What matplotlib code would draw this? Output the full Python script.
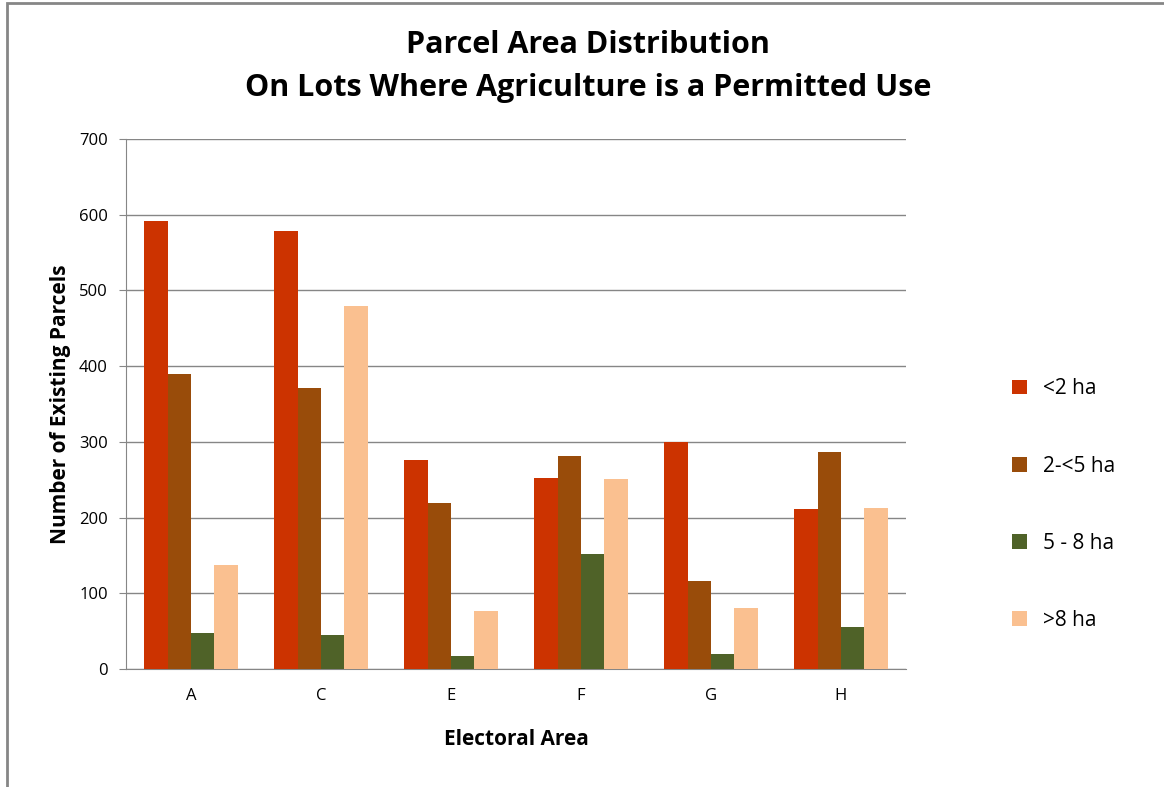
import matplotlib.pyplot as plt
import numpy as np
from matplotlib.patches import Rectangle
from matplotlib.font_manager import fontManager

areas = ["A", "C", "E", "F", "G", "H"]
series_names = ["<2 ha", "2-<5 ha", "5 - 8 ha", ">8 ha"]
under_2 = [592, 579, 276, 252, 300, 211]
two_to_5 = [390, 371, 219, 281, 116, 287]
five_to_8 = [47, 45, 17, 152, 20, 55]
over_8 = [137, 480, 77, 251, 81, 213]
colors = ["#CC3300", "#994C0A", "#4F6228", "#FAC090"]

names = {f.name for f in fontManager.ttflist}
font = "Liberation Sans Narrow" if "Liberation Sans Narrow" in names else "Open Sans"
plt.rcParams["font.family"] = [font, "DejaVu Sans"]

fig = plt.figure(figsize=(11.64, 7.87), dpi=100)
ax = fig.add_axes([126 / 1164, 1 - 669 / 787, 780 / 1164, 530 / 787])

x = np.arange(len(areas))
width = 0.18
for i, (vals, name) in enumerate(zip([under_2, two_to_5, five_to_8, over_8], series_names)):
    ax.bar(x + (i - 1.5) * width, vals, width, color=colors[i], label=name, zorder=3)

ax.set_xlim(-0.5, len(areas) - 0.5)
ax.set_ylim(0, 700)
ax.set_yticks(range(0, 701, 100))
ax.set_xticks(x)
ax.set_xticklabels(areas)
ax.grid(axis="y", color="#868686", linewidth=1, zorder=0)
for s in ["top", "right"]:
    ax.spines[s].set_visible(False)
ax.spines["left"].set_color("#868686")
ax.spines["bottom"].set_color("#868686")
ax.tick_params(axis="y", length=5, color="#868686", labelsize=12, pad=8)
ax.tick_params(axis="x", length=0, labelsize=12, pad=14)

ax.set_xlabel("Electoral Area", fontsize=15, fontweight="bold", labelpad=18)
ax.set_ylabel("Number of Existing Parcels", fontsize=15, fontweight="bold", labelpad=6)

fig.text(0.505, 1 - 45 / 787, "Parcel Area Distribution", ha="center", va="center",
         fontsize=22, fontweight="bold")
fig.text(0.505, 1 - 88 / 787, "On Lots Where Agriculture is a Permitted Use", ha="center",
         va="center", fontsize=22, fontweight="bold")

ax.legend(loc="center left", bbox_to_anchor=(1.112, 0.31), frameon=False, fontsize=15,
          handlelength=0.7, handleheight=0.7, labelspacing=2.7, handletextpad=0.8)

fig.patches.append(Rectangle((7 / 1164, -0.1), 1.2, 1 - 3 / 787 + 0.1, transform=fig.transFigure,
                             fill=False, edgecolor="#868686", linewidth=2))

fig.savefig("out.png", dpi=100)
